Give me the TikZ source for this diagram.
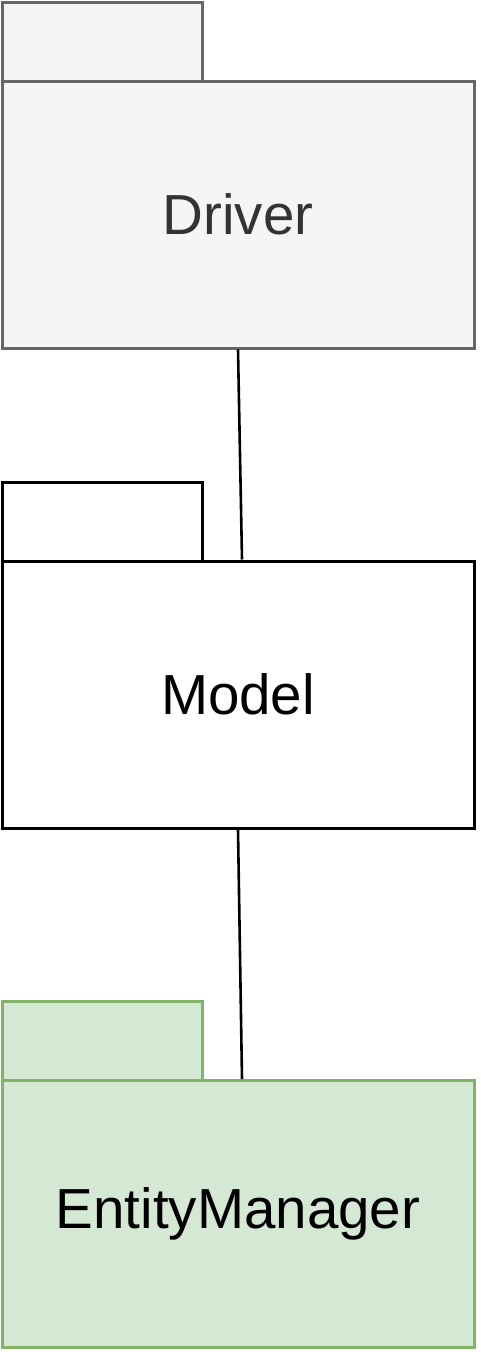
\documentclass[tikz,border=0pt]{standalone}
\usepackage{fontspec}
\setmainfont{Liberation Sans}
\definecolor{grayfill}{HTML}{F5F5F5}
\definecolor{graystroke}{HTML}{666666}
\definecolor{graytext}{HTML}{333333}
\definecolor{greenfill}{HTML}{D5E8D4}
\definecolor{greenstroke}{HTML}{82B366}
\begin{document}
\begin{tikzpicture}[x=1pt,y=-1pt,line width=3pt,
  pkgbody/.style={draw,rectangle,minimum width=472pt,minimum height=267pt,inner sep=0pt,font=\fontsize{56.5}{68}\selectfont},
  pkgtab/.style={draw,rectangle,minimum width=200pt,minimum height=79pt,inner sep=0pt},
  grey/.style={fill=grayfill,draw=graystroke,text=graytext},
  plain/.style={fill=white,draw=black,text=black},
  green/.style={fill=greenfill,draw=greenstroke,text=black},
  conn/.style={draw=black,line width=2.6pt}]
\useasboundingbox (0,0) rectangle (480,1352);
% Driver
\node[pkgtab,grey] (drivertab) at (102,41.5) {};
\node[pkgbody,grey] (driver) at (238,214.5) {Driver};
% Model
\node[pkgtab,plain] (modeltab) at (102,521.5) {};
\node[pkgbody,plain] (model) at (238,694.5) {Model};
% EntityManager
\node[pkgtab,green] (emtab) at (102,1041) {};
\node[pkgbody,green] (em) at (238,1214) {EntityManager};
% connectors
\draw[conn] (driver.south) -- ([xshift=4pt]model.north);
\draw[conn] (model.south) -- ([xshift=4pt]em.north);
\end{tikzpicture}
\end{document}
